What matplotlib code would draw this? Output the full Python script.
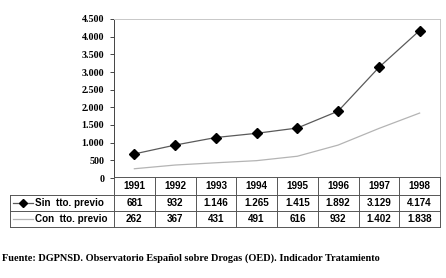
import matplotlib.pyplot as plt
import numpy as np

# Datos
anios = ['1991', '1992', '1993', '1994', '1995', '1996', '1997', '1998']
sin_tto = [681, 932, 1146, 1265, 1415, 1892, 3129, 4174]
con_tto = [262, 367, 431, 491, 616, 932, 1402, 1838]
etiquetas = ['Sin  tto. previo', 'Con  tto. previo']
yticks = [0, 500, 1000, 1500, 2000, 2500, 3000, 3500, 4000, 4500]
fuente = 'Fuente: DGPNSD. Observatorio Español sobre Drogas (OED). Indicador Tratamiento'


def fmt_es(v):
    # separador de miles con punto
    return f'{v:,}'.replace(',', '.')


W, H = 446, 278
fig = plt.figure(figsize=(W / 100, H / 100), dpi=100)

x0, x1, ytop, ybot = 114, 440, 19, 178
ax = fig.add_axes([x0 / W, 1 - ybot / H, (x1 - x0) / W, (ybot - ytop) / H])

x = np.arange(1, len(anios) + 1)
ax.plot(x, con_tto, color='#b4b4b4', lw=0.9)
ax.plot(x, sin_tto, color='#5a5a5a', lw=0.9, marker='D', ms=4.8,
        mfc='black', mec='black')

ax.set_xlim(0.5, len(anios) + 0.5)
ax.set_ylim(0, 4500)
ax.set_yticks(yticks)
ax.set_yticklabels([fmt_es(v) for v in yticks], family='Liberation Serif',
                   fontweight='bold', fontsize=7.2)
ax.set_xticks([])
ax.tick_params(axis='y', length=3, width=0.7, color='#444444', pad=4)
ax.spines['left'].set_color('#444444')
ax.spines['top'].set_color('#c8c8c8')
ax.spines['right'].set_color('#c8c8c8')
ax.spines['bottom'].set_visible(False)
for s in ax.spines.values():
    s.set_linewidth(0.7)

# Tabla de datos (capa en coordenadas de píxel)
tb = fig.add_axes([0, 0, 1, 1])
tb.set_xlim(0, W)
tb.set_ylim(H, 0)
tb.axis('off')
tb.patch.set_alpha(0)

filas = [177, 195, 211, 227]
ancho = (x1 - x0) / len(anios)
col_bordes = [x0 + i * ancho for i in range(len(anios) + 1)]
lc = '#555555'
lw = 0.7

# líneas horizontales
tb.plot([x0, x1], [filas[0], filas[0]], color=lc, lw=lw)
for yy in filas[1:]:
    tb.plot([10, x1], [yy, yy], color=lc, lw=lw)
# líneas verticales
for xx in col_bordes:
    tb.plot([xx, xx], [filas[0], filas[3]], color=lc, lw=lw)
tb.plot([10, 10], [filas[1], filas[3]], color=lc, lw=lw)

font_t = dict(family='Liberation Sans', fontweight='bold', fontsize=7.1,
              ha='center', va='center')
for i, a in enumerate(anios):
    cx = x0 + (i + 0.5) * ancho
    tb.text(cx, (filas[0] + filas[1]) / 2, a, **font_t)
    tb.text(cx, (filas[1] + filas[2]) / 2 + 0.5, fmt_es(sin_tto[i]), **font_t)
    tb.text(cx, (filas[2] + filas[3]) / 2 + 0.5, fmt_es(con_tto[i]), **font_t)

# leyenda dentro de la tabla
ys = (filas[1] + filas[2]) / 2
yc = (filas[2] + filas[3]) / 2
tb.plot([13, 33], [ys, ys], color='#5a5a5a', lw=0.9)
tb.plot([23], [ys], marker='D', ms=3.8, color='black')
tb.plot([13, 33], [yc, yc], color='#b4b4b4', lw=0.9)
tb.text(35, ys + 0.5, etiquetas[0], family='Liberation Sans', fontweight='bold',
        fontsize=7.1, ha='left', va='center')
tb.text(35, yc + 0.5, etiquetas[1], family='Liberation Sans', fontweight='bold',
        fontsize=7.1, ha='left', va='center')

# fuente
tb.text(2, 258, fuente, family='Liberation Serif', fontweight='bold',
        fontsize=7.35, ha='left', va='center')

plt.savefig('out.png', dpi=100)
plt.close()
